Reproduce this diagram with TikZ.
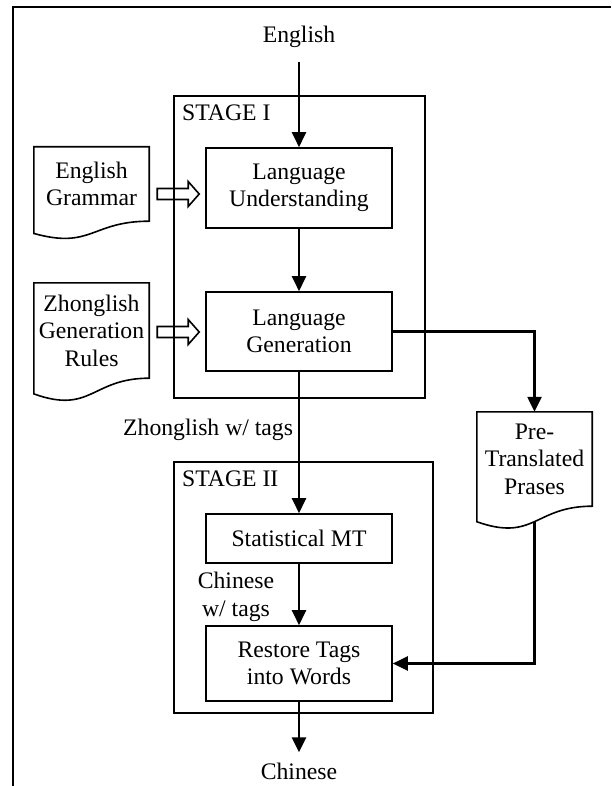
\documentclass[tikz,border=0pt]{standalone}
\usepackage{fontspec}
\setmainfont{Liberation Serif}
\usetikzlibrary{arrows.meta,calc}

\begin{document}
\begin{tikzpicture}[x = 1pt, y = -1pt,
    font = \fontsize{23.7}{27.5}\selectfont,
    box/.style = {draw, line width = 1.6pt, minimum width = 186pt, align = center, inner sep = 0pt},
    doc/.style = {minimum width = 115pt, align = center, inner sep = 0pt},
    txt/.style = {inner sep = 0pt},
    flow/.style = {line width = 2.4pt, -{Triangle[length = 15pt, width = 14pt]}}]
  \useasboundingbox (0, 0) rectangle (611, 786);
  \draw[line width = 2.7pt] (13, 786)--(13, 7)--(611, 7);

  \node[txt, anchor = base] (en) at (299, 43) {English};
  \node[box, minimum height = 80pt] (lu) at (299, 188) {Language\\Understanding};
  \node[box, minimum height = 79pt] (lg) at (299, 331.5) {Language\\Generation};
  \node[box, minimum height = 49pt] (smt) at (299, 538.5) {Statistical MT};
  \node[box, minimum height = 75pt] (rt) at (299, 663.5) {Restore Tags\\into Words};
  \node[txt, anchor = base] (cn) at (299, 779) {Chinese};

  \node[doc, minimum height = 74pt] (eg) at (91.5, 184) {English\\Grammar};
  \node[doc, minimum height = 95pt] (zg) at (91.5, 330.5) {Zhonglish\\Generation\\Rules};
  \node[doc, minimum height = 94pt] (pt) at (534.5, 459) {Pre-\\Translated\\Prases};
  \foreach \d in {eg, zg, pt}
    \draw[line width = 1.6pt] (\d.north west)--(\d.north east)--(\d.south east)
      .. controls (\d.south) and ($(\d.north)!1.381!(\d.south)$) .. ($(\d.north west)!1.1646!(\d.south west)$)
      coordinate[pos = .5] (\d-b)--cycle;

  \foreach \src/\yy in {eg/194, zg/332}
    \draw[line width = 1.6pt] (\src.east |- 0, \yy) ++(8, -5.5)--++(31, 0)--++(0, -7)--++(11, 12.5)
      --++(-11, 12.5)--++(0, -7)--++(-31, 0)--cycle;

  \draw[flow, shorten <= 14pt] (en.south)--(lu.north);
  \draw[flow] (lu)--(lg);
  \draw[flow] (lg)--(smt);
  \draw[flow] (smt)--(rt);
  \draw[flow, shorten >= 10pt] (rt.south)--(cn.north);
  \draw[flow] (lg) -| (pt);
  \draw[flow] (pt-b) |- (rt);

  \draw[line width = 1.6pt] (174, 96) rectangle (425, 398);
  \draw[line width = 1.6pt] (174, 462) rectangle (433, 713);
  \node[txt, anchor = base west] (s1) at (182, 121) {STAGE I};
  \node[txt, anchor = base west] (s2) at (182, 486) {STAGE II};
  \node[txt, anchor = base west] (zt) at (123, 435) {Zhonglish w/ tags};
  \node[txt, align = center] (ct) at (236, 597) {Chinese\\w/ tags};
\end{tikzpicture}
\end{document}
